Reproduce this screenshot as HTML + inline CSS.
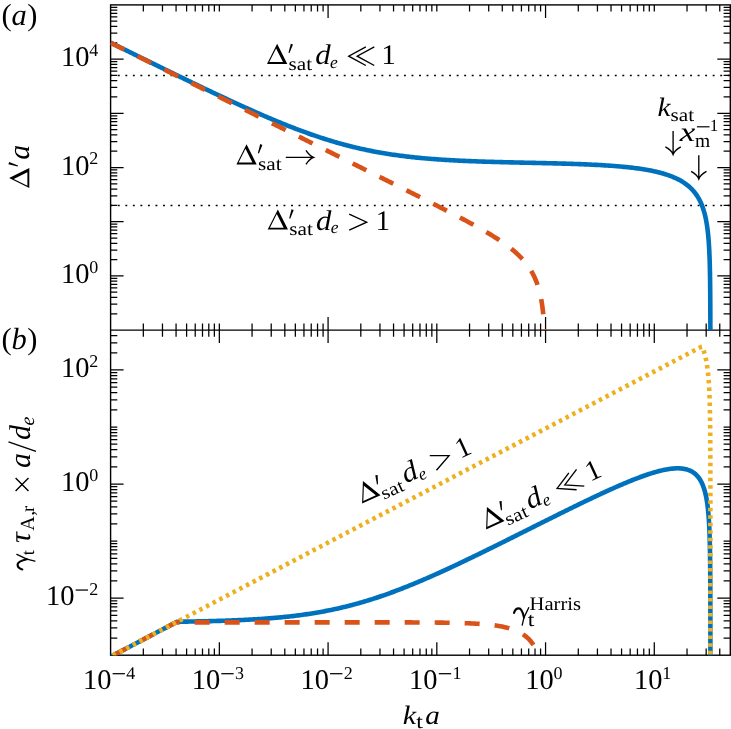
<!DOCTYPE html>
<html><head><meta charset="utf-8"><title>fig</title>
<style>
html,body{margin:0;padding:0;background:#fff;}
body{width:731px;height:729px;overflow:hidden;}
svg{display:block;will-change:transform;}
text{font-family:"Liberation Serif",serif;fill:#000;text-rendering:geometricPrecision;}
.tk{font-size:28.5px;}
.sp{font-size:18px;}
.it{font-style:italic;}
.an{font-size:30px;}
.sb{font-size:20px;}
</style></head><body>
<svg width="731" height="729" viewBox="0 0 731 729">
<rect width="731" height="729" fill="#fff"/>
<defs>
<clipPath id="ca"><rect x="110.6" y="4.9" width="619.6999999999999" height="325.20000000000005"/></clipPath>
<clipPath id="cb"><rect x="110.6" y="330.1" width="619.6999999999999" height="325.1"/></clipPath>
</defs>
<g id="dots" stroke="#000" stroke-width="1.5" stroke-dasharray="1.9 5.63" stroke-dashoffset="0.3" fill="none">
<line x1="110.6" y1="75.42" x2="730.3" y2="75.42"/>
<line x1="110.6" y1="205.38" x2="730.3" y2="205.38"/>
</g>
<path stroke="#000" fill="none" stroke-width="1.25" d="M143.33 4.90V11.60M143.33 323.40V336.80M143.33 648.50V655.20M162.48 4.90V11.60M162.48 323.40V336.80M162.48 648.50V655.20M176.07 4.90V11.60M176.07 323.40V336.80M176.07 648.50V655.20M186.61 4.90V11.60M186.61 323.40V336.80M186.61 648.50V655.20M195.22 4.90V11.60M195.22 323.40V336.80M195.22 648.50V655.20M202.50 4.90V11.60M202.50 323.40V336.80M202.50 648.50V655.20M208.80 4.90V11.60M208.80 323.40V336.80M208.80 648.50V655.20M214.36 4.90V11.60M214.36 323.40V336.80M214.36 648.50V655.20M219.34 4.90V11.60M219.34 323.40V343.10M219.34 642.20V655.20M252.07 4.90V11.60M252.07 323.40V336.80M252.07 648.50V655.20M271.22 4.90V11.60M271.22 323.40V336.80M271.22 648.50V655.20M284.81 4.90V11.60M284.81 323.40V336.80M284.81 648.50V655.20M295.34 4.90V11.60M295.34 323.40V336.80M295.34 648.50V655.20M303.95 4.90V11.60M303.95 323.40V336.80M303.95 648.50V655.20M311.23 4.90V11.60M311.23 323.40V336.80M311.23 648.50V655.20M317.54 4.90V11.60M317.54 323.40V336.80M317.54 648.50V655.20M323.10 4.90V11.60M323.10 323.40V336.80M323.10 648.50V655.20M328.08 4.90V17.90M328.08 317.10V343.10M328.08 642.20V655.20M360.81 4.90V11.60M360.81 323.40V336.80M360.81 648.50V655.20M379.96 4.90V11.60M379.96 323.40V336.80M379.96 648.50V655.20M393.55 4.90V11.60M393.55 323.40V336.80M393.55 648.50V655.20M404.08 4.90V11.60M404.08 323.40V336.80M404.08 648.50V655.20M412.69 4.90V11.60M412.69 323.40V336.80M412.69 648.50V655.20M419.97 4.90V11.60M419.97 323.40V336.80M419.97 648.50V655.20M426.28 4.90V11.60M426.28 323.40V336.80M426.28 648.50V655.20M431.84 4.90V11.60M431.84 323.40V336.80M431.84 648.50V655.20M436.82 4.90V11.60M436.82 323.40V343.10M436.82 642.20V655.20M469.55 4.90V11.60M469.55 323.40V336.80M469.55 648.50V655.20M488.70 4.90V11.60M488.70 323.40V336.80M488.70 648.50V655.20M502.28 4.90V11.60M502.28 323.40V336.80M502.28 648.50V655.20M512.82 4.90V11.60M512.82 323.40V336.80M512.82 648.50V655.20M521.43 4.90V11.60M521.43 323.40V336.80M521.43 648.50V655.20M528.71 4.90V11.60M528.71 323.40V336.80M528.71 648.50V655.20M535.02 4.90V11.60M535.02 323.40V336.80M535.02 648.50V655.20M540.58 4.90V11.60M540.58 323.40V336.80M540.58 648.50V655.20M545.56 4.90V17.90M545.56 317.10V343.10M545.56 642.20V655.20M578.29 4.90V11.60M578.29 323.40V336.80M578.29 648.50V655.20M597.44 4.90V11.60M597.44 323.40V336.80M597.44 648.50V655.20M611.02 4.90V11.60M611.02 323.40V336.80M611.02 648.50V655.20M621.56 4.90V11.60M621.56 323.40V336.80M621.56 648.50V655.20M630.17 4.90V11.60M630.17 323.40V336.80M630.17 648.50V655.20M637.45 4.90V11.60M637.45 323.40V336.80M637.45 648.50V655.20M643.76 4.90V11.60M643.76 323.40V336.80M643.76 648.50V655.20M649.32 4.90V11.60M649.32 323.40V336.80M649.32 648.50V655.20M654.29 4.90V11.60M654.29 323.40V343.10M654.29 642.20V655.20M687.03 4.90V11.60M687.03 323.40V336.80M687.03 648.50V655.20M706.18 4.90V11.60M706.18 323.40V336.80M706.18 648.50V655.20M719.76 4.90V11.60M719.76 323.40V336.80M719.76 648.50V655.20M110.60 313.78H117.30M723.60 313.78H730.30M110.60 304.24H117.30M723.60 304.24H730.30M110.60 297.47H117.30M723.60 297.47H730.30M110.60 292.22H117.30M723.60 292.22H730.30M110.60 287.92H117.30M723.60 287.92H730.30M110.60 284.30H117.30M723.60 284.30H730.30M110.60 281.15H117.30M723.60 281.15H730.30M110.60 278.38H117.30M723.60 278.38H730.30M110.60 275.90H123.60M717.30 275.90H730.30M110.60 259.58H117.30M723.60 259.58H730.30M110.60 250.04H117.30M723.60 250.04H730.30M110.60 243.27H117.30M723.60 243.27H730.30M110.60 238.02H117.30M723.60 238.02H730.30M110.60 233.72H117.30M723.60 233.72H730.30M110.60 230.10H117.30M723.60 230.10H730.30M110.60 226.95H117.30M723.60 226.95H730.30M110.60 224.18H117.30M723.60 224.18H730.30M110.60 221.70H123.60M717.30 221.70H730.30M110.60 205.38H117.30M723.60 205.38H730.30M110.60 195.84H117.30M723.60 195.84H730.30M110.60 189.07H117.30M723.60 189.07H730.30M110.60 183.82H117.30M723.60 183.82H730.30M110.60 179.52H117.30M723.60 179.52H730.30M110.60 175.90H117.30M723.60 175.90H730.30M110.60 172.75H117.30M723.60 172.75H730.30M110.60 169.98H117.30M723.60 169.98H730.30M110.60 167.50H123.60M717.30 167.50H730.30M110.60 151.18H117.30M723.60 151.18H730.30M110.60 141.64H117.30M723.60 141.64H730.30M110.60 134.87H117.30M723.60 134.87H730.30M110.60 129.62H117.30M723.60 129.62H730.30M110.60 125.32H117.30M723.60 125.32H730.30M110.60 121.70H117.30M723.60 121.70H730.30M110.60 118.55H117.30M723.60 118.55H730.30M110.60 115.78H117.30M723.60 115.78H730.30M110.60 113.30H123.60M717.30 113.30H730.30M110.60 96.98H117.30M723.60 96.98H730.30M110.60 87.44H117.30M723.60 87.44H730.30M110.60 80.67H117.30M723.60 80.67H730.30M110.60 75.42H117.30M723.60 75.42H730.30M110.60 71.12H117.30M723.60 71.12H730.30M110.60 67.50H117.30M723.60 67.50H730.30M110.60 64.35H117.30M723.60 64.35H730.30M110.60 61.58H117.30M723.60 61.58H730.30M110.60 59.10H123.60M717.30 59.10H730.30M110.60 42.78H117.30M723.60 42.78H730.30M110.60 33.24H117.30M723.60 33.24H730.30M110.60 26.47H117.30M723.60 26.47H730.30M110.60 21.22H117.30M723.60 21.22H730.30M110.60 16.92H117.30M723.60 16.92H730.30M110.60 13.30H117.30M723.60 13.30H730.30M110.60 10.15H117.30M723.60 10.15H730.30M110.60 7.38H117.30M723.60 7.38H730.30M110.60 638.03H117.30M723.60 638.03H730.30M110.60 627.98H117.30M723.60 627.98H730.30M110.60 620.86H117.30M723.60 620.86H730.30M110.60 615.33H117.30M723.60 615.33H730.30M110.60 610.81H117.30M723.60 610.81H730.30M110.60 606.99H117.30M723.60 606.99H730.30M110.60 603.68H117.30M723.60 603.68H730.30M110.60 600.76H117.30M723.60 600.76H730.30M110.60 598.15H123.60M717.30 598.15H730.30M110.60 580.98H117.30M723.60 580.98H730.30M110.60 570.94H117.30M723.60 570.94H730.30M110.60 563.81H117.30M723.60 563.81H730.30M110.60 558.28H117.30M723.60 558.28H730.30M110.60 553.76H117.30M723.60 553.76H730.30M110.60 549.95H117.30M723.60 549.95H730.30M110.60 546.64H117.30M723.60 546.64H730.30M110.60 543.72H117.30M723.60 543.72H730.30M110.60 541.11H117.30M723.60 541.11H730.30M110.60 523.94H117.30M723.60 523.94H730.30M110.60 513.89H117.30M723.60 513.89H730.30M110.60 506.76H117.30M723.60 506.76H730.30M110.60 501.24H117.30M723.60 501.24H730.30M110.60 496.72H117.30M723.60 496.72H730.30M110.60 492.90H117.30M723.60 492.90H730.30M110.60 489.59H117.30M723.60 489.59H730.30M110.60 486.67H117.30M723.60 486.67H730.30M110.60 484.06H123.60M717.30 484.06H730.30M110.60 466.89H117.30M723.60 466.89H730.30M110.60 456.85H117.30M723.60 456.85H730.30M110.60 449.72H117.30M723.60 449.72H730.30M110.60 444.19H117.30M723.60 444.19H730.30M110.60 439.67H117.30M723.60 439.67H730.30M110.60 435.85H117.30M723.60 435.85H730.30M110.60 432.55H117.30M723.60 432.55H730.30M110.60 429.63H117.30M723.60 429.63H730.30M110.60 427.02H117.30M723.60 427.02H730.30M110.60 409.85H117.30M723.60 409.85H730.30M110.60 399.80H117.30M723.60 399.80H730.30M110.60 392.67H117.30M723.60 392.67H730.30M110.60 387.15H117.30M723.60 387.15H730.30M110.60 382.63H117.30M723.60 382.63H730.30M110.60 378.81H117.30M723.60 378.81H730.30M110.60 375.50H117.30M723.60 375.50H730.30M110.60 372.58H117.30M723.60 372.58H730.30M110.60 369.97H123.60M717.30 369.97H730.30M110.60 352.80H117.30M723.60 352.80H730.30M110.60 342.76H117.30M723.60 342.76H730.30M110.60 335.63H117.30M723.60 335.63H730.30"/>
<rect x="110.6" y="4.9" width="619.6999999999999" height="650.3000000000001" fill="none" stroke="#000" stroke-width="1.4"/>
<line x1="110.6" y1="330.1" x2="730.3" y2="330.1" stroke="#000" stroke-width="1.4"/>
<g clip-path="url(#ca)" fill="none" stroke-width="4.6" stroke-linejoin="round">
<path d="M110.60,42.64 L111.95,43.31 L113.29,43.97 L114.64,44.64 L115.99,45.31 L117.33,45.98 L118.68,46.64 L120.03,47.31 L121.37,47.97 L122.72,48.64 L124.07,49.31 L125.41,49.97 L126.76,50.64 L128.11,51.30 L129.46,51.97 L130.80,52.63 L132.15,53.30 L133.50,53.97 L134.84,54.63 L136.19,55.29 L137.54,55.96 L138.89,56.62 L140.24,57.29 L141.58,57.95 L142.93,58.62 L144.28,59.28 L145.63,59.94 L146.98,60.61 L148.32,61.27 L149.67,61.93 L151.02,62.60 L152.37,63.26 L153.72,63.92 L155.07,64.58 L156.42,65.24 L157.77,65.91 L159.11,66.57 L160.46,67.23 L161.81,67.89 L163.16,68.55 L164.51,69.21 L165.86,69.87 L167.21,70.53 L168.56,71.19 L169.91,71.85 L171.26,72.51 L172.61,73.17 L173.96,73.82 L175.32,74.48 L176.67,75.14 L178.02,75.80 L179.37,76.45 L180.72,77.11 L182.07,77.77 L183.43,78.42 L184.78,79.08 L186.13,79.73 L187.48,80.39 L188.84,81.04 L190.19,81.69 L191.54,82.35 L192.90,83.00 L194.25,83.65 L195.60,84.30 L196.96,84.95 L198.31,85.60 L199.67,86.25 L201.02,86.90 L202.38,87.55 L203.73,88.20 L205.09,88.84 L206.45,89.49 L207.80,90.14 L209.16,90.78 L210.52,91.43 L211.88,92.07 L213.23,92.71 L214.59,93.35 L215.95,94.00 L217.31,94.64 L218.67,95.28 L220.03,95.92 L221.39,96.55 L222.75,97.19 L224.11,97.83 L225.47,98.46 L226.84,99.10 L228.20,99.73 L229.56,100.36 L230.93,100.99 L232.29,101.62 L233.65,102.25 L235.02,102.88 L236.39,103.51 L237.75,104.13 L239.12,104.76 L240.49,105.38 L241.85,106.00 L243.22,106.62 L244.59,107.24 L245.96,107.86 L247.33,108.47 L248.70,109.09 L250.08,109.70 L251.45,110.31 L252.82,110.92 L254.20,111.53 L255.57,112.14 L256.95,112.74 L258.32,113.35 L259.70,113.95 L261.08,114.55 L262.45,115.14 L263.83,115.74 L265.21,116.33 L266.60,116.93 L267.98,117.52 L269.36,118.10 L270.74,118.69 L272.13,119.27 L273.52,119.85 L274.90,120.43 L276.29,121.01 L277.68,121.58 L279.07,122.15 L280.46,122.72 L281.85,123.29 L283.24,123.85 L284.64,124.41 L286.03,124.97 L287.43,125.52 L288.83,126.07 L290.23,126.62 L291.63,127.17 L293.03,127.71 L294.43,128.25 L295.83,128.79 L297.24,129.32 L298.64,129.85 L300.05,130.38 L301.46,130.90 L302.87,131.42 L304.28,131.94 L305.69,132.45 L307.11,132.96 L308.52,133.46 L309.94,133.97 L311.36,134.46 L312.78,134.96 L314.20,135.45 L315.62,135.93 L317.04,136.41 L318.47,136.89 L319.89,137.36 L321.32,137.83 L322.75,138.29 L324.18,138.75 L325.61,139.21 L327.05,139.66 L328.48,140.10 L329.92,140.54 L331.36,140.98 L332.80,141.41 L334.24,141.84 L335.68,142.26 L337.12,142.68 L338.57,143.09 L340.01,143.49 L341.46,143.90 L342.91,144.29 L344.36,144.68 L345.82,145.07 L347.27,145.45 L348.72,145.83 L350.18,146.20 L351.64,146.56 L353.10,146.92 L354.56,147.28 L356.02,147.63 L357.48,147.97 L358.94,148.31 L360.41,148.64 L361.88,148.97 L363.34,149.30 L364.81,149.61 L366.28,149.93 L367.75,150.23 L369.22,150.53 L370.70,150.83 L372.17,151.12 L373.65,151.41 L375.12,151.69 L376.60,151.96 L378.08,152.23 L379.56,152.50 L381.04,152.76 L382.52,153.01 L384.00,153.26 L385.48,153.51 L386.96,153.75 L388.45,153.98 L389.93,154.22 L391.42,154.44 L392.91,154.66 L394.39,154.88 L395.88,155.09 L397.37,155.30 L398.86,155.50 L400.35,155.70 L401.84,155.89 L403.33,156.08 L404.82,156.26 L406.31,156.44 L407.80,156.62 L409.30,156.79 L410.79,156.96 L412.28,157.12 L413.78,157.28 L415.27,157.44 L416.77,157.59 L418.26,157.74 L419.76,157.89 L421.25,158.03 L422.75,158.17 L424.25,158.30 L425.74,158.43 L427.24,158.56 L428.74,158.69 L430.23,158.81 L431.73,158.93 L433.23,159.04 L434.73,159.16 L436.23,159.27 L437.73,159.37 L439.23,159.48 L440.72,159.58 L442.22,159.68 L443.72,159.77 L445.22,159.87 L446.72,159.96 L448.22,160.05 L449.72,160.14 L451.22,160.22 L452.72,160.30 L454.22,160.38 L455.72,160.46 L457.23,160.54 L458.73,160.61 L460.23,160.69 L461.73,160.76 L463.23,160.83 L464.73,160.89 L466.23,160.96 L467.73,161.02 L469.23,161.08 L470.73,161.15 L472.24,161.21 L473.74,161.26 L475.24,161.32 L476.74,161.37 L478.24,161.43 L479.74,161.48 L481.25,161.53 L482.75,161.58 L484.25,161.63 L485.75,161.68 L487.25,161.73 L488.76,161.77 L490.26,161.82 L491.76,161.86 L493.26,161.91 L494.76,161.95 L496.27,161.99 L497.77,162.03 L499.27,162.07 L500.77,162.11 L502.27,162.15 L503.78,162.19 L505.28,162.23 L506.78,162.26 L508.28,162.30 L509.78,162.34 L511.29,162.37 L512.79,162.41 L514.29,162.44 L515.79,162.48 L517.30,162.51 L518.80,162.55 L520.30,162.58 L521.80,162.62 L523.30,162.65 L524.81,162.68 L526.31,162.72 L527.81,162.75 L529.31,162.78 L530.82,162.82 L532.32,162.85 L533.82,162.88 L535.32,162.92 L536.82,162.95 L538.33,162.99 L539.83,163.02 L541.33,163.05 L542.83,163.09 L544.34,163.12 L545.84,163.16 L547.34,163.20 L548.84,163.23 L550.34,163.27 L551.85,163.31 L553.35,163.34 L554.85,163.38 L556.35,163.42 L557.85,163.46 L559.36,163.50 L560.86,163.54 L562.36,163.59 L563.86,163.63 L565.36,163.67 L566.87,163.72 L568.37,163.76 L569.87,163.81 L571.37,163.86 L572.87,163.91 L574.38,163.96 L575.88,164.01 L577.38,164.06 L578.88,164.12 L580.38,164.17 L581.88,164.23 L583.39,164.29 L584.89,164.35 L586.39,164.41 L587.89,164.48 L589.39,164.54 L590.89,164.61 L592.39,164.68 L593.89,164.76 L595.39,164.83 L596.89,164.91 L598.39,164.99 L599.90,165.07 L601.40,165.15 L602.90,165.24 L604.40,165.33 L605.90,165.43 L607.39,165.52 L608.89,165.62 L610.39,165.73 L611.89,165.83 L613.39,165.94 L614.89,166.06 L616.39,166.18 L617.88,166.30 L619.38,166.43 L620.88,166.56 L622.37,166.70 L623.87,166.84 L625.37,166.99 L626.86,167.14 L628.35,167.30 L629.85,167.46 L631.34,167.63 L632.83,167.81 L634.32,167.99 L635.82,168.18 L637.30,168.38 L638.79,168.59 L640.28,168.80 L641.77,169.02 L643.25,169.26 L644.73,169.50 L646.22,169.75 L647.69,170.01 L649.17,170.28 L650.65,170.57 L652.12,170.86 L653.59,171.17 L655.06,171.50 L656.52,171.83 L657.98,172.18 L659.44,172.55 L660.90,172.93 L662.34,173.33 L663.79,173.75 L665.22,174.19 L666.66,174.64 L668.08,175.12 L669.50,175.62 L670.91,176.15 L672.30,176.69 L673.69,177.27 L675.07,177.87 L676.44,178.50 L677.79,179.16 L679.12,179.84 L680.44,180.57 L681.74,181.32 L683.02,182.11 L684.28,182.93 L685.51,183.79 L686.72,184.68 L687.89,185.62 L689.04,186.58 L690.16,187.59 L691.24,188.63 L692.29,189.71 L693.30,190.82 L694.27,191.97 L695.20,193.15 L696.09,194.36 L696.94,195.60 L697.75,196.87 L698.52,198.16 L699.25,199.47 L699.93,200.81 L700.59,202.16 L701.20,203.53 L701.78,204.92 L702.32,206.32 L702.83,207.73 L703.31,209.16 L703.76,210.59 L704.18,212.03 L704.58,213.48 L704.95,214.94 L705.30,216.40 L705.62,217.87 L705.93,219.34 L706.21,220.81 L706.48,222.29 L706.73,223.77 L706.96,225.26 L707.18,226.75 L707.38,228.23 L707.57,229.72 L707.75,231.22 L707.92,232.71 L708.08,234.20 L708.22,235.70 L708.36,237.20 L708.49,238.69 L708.61,240.19 L708.72,241.69 L708.83,243.19 L708.93,244.69 L709.02,246.19 L709.11,247.69 L709.19,249.19 L709.27,250.69 L709.34,252.19 L709.40,253.69 L709.47,255.19 L709.53,256.69 L709.58,258.19 L709.63,259.70 L709.68,261.20 L709.73,262.70 L709.77,264.20 L709.81,265.70 L709.84,267.21 L709.88,268.71 L709.91,270.21 L709.94,271.71 L709.97,273.22 L710.00,274.72 L710.02,276.22 L710.05,277.72 L710.07,279.22 L710.09,280.73 L710.11,282.23 L710.13,283.73 L710.15,285.23 L710.16,286.74 L710.18,288.24 L710.19,289.74 L710.21,291.24 L710.22,292.75 L710.23,294.25 L710.24,295.75 L710.25,297.26 L710.26,298.76 L710.27,300.26 L710.28,301.76 L710.29,303.27 L710.29,304.77 L710.30,306.27 L710.31,307.77 L710.31,309.28 L710.32,310.78 L710.33,312.28 L710.33,313.78 L710.34,315.29 L710.34,316.79 L710.34,318.29 L710.35,319.79 L710.35,321.30 L710.35,322.80 L710.36,324.30 L710.36,325.80 L710.36,327.31 L710.37,328.81 L710.37,330.31 L710.37,331.81 L710.37,333.32 L710.38,334.82 L710.38,336.32 L710.38,337.83 L710.38,339.33 L710.38,340.83 L710.38,342.33 L710.39,343.84 L710.39,345.34 L710.39,346.84 L710.39,348.34 L710.39,349.85 L710.39,351.35 L710.39,352.85 L710.39,354.35 L710.39,355.86 L710.39,357.36 L710.40,358.86 L710.40,360.36 L710.40,361.87 L710.40,363.37 L710.40,364.87 L710.40,366.37 L710.40,367.88 L710.40,369.38 L710.40,370.88 L710.40,372.39 L710.40,373.89 L710.40,375.39 L710.40,376.89 L710.40,378.40 L710.40,379.90 L710.40,381.40 L710.40,382.90 L710.40,384.41 L710.40,385.91 L710.40,387.41 L710.40,388.91 L710.40,390.42 L710.40,391.92 L710.40,393.42 L710.40,394.92 L710.40,396.43 L710.40,397.93 L710.40,399.43 L710.40,400.93 L710.40,402.44 L710.40,403.94 L710.40,405.44 L710.40,406.95 L710.40,408.45 L710.40,409.95 L710.40,411.45 L710.40,412.96 L710.41,414.46 L710.41,415.96 L710.41,417.46 L710.41,418.97 L710.41,420.47 L710.41,421.97 L710.41,423.47 L710.41,424.98 L710.41,426.48 L710.41,427.98 L710.41,429.48 L710.41,430.99 L710.41,432.49 L710.41,433.99 L710.41,435.49 L710.41,437.00 L710.41,438.50" stroke="#0072bd"/>
<path d="M110.60,42.78 L111.94,43.45 L113.29,44.12 L114.63,44.79 L115.98,45.46 L117.32,46.13 L118.67,46.80 L120.01,47.47 L121.35,48.14 L122.70,48.81 L124.04,49.48 L125.39,50.15 L126.73,50.82 L128.08,51.50 L129.42,52.17 L130.76,52.84 L132.11,53.51 L133.45,54.18 L134.80,54.85 L136.14,55.52 L137.49,56.19 L138.83,56.86 L140.18,57.53 L141.52,58.20 L142.86,58.87 L144.21,59.54 L145.55,60.21 L146.90,60.88 L148.24,61.55 L149.59,62.22 L150.93,62.89 L152.27,63.56 L153.62,64.23 L154.96,64.90 L156.31,65.57 L157.65,66.24 L159.00,66.91 L160.34,67.58 L161.68,68.25 L163.03,68.92 L164.37,69.59 L165.72,70.26 L167.06,70.93 L168.41,71.60 L169.75,72.27 L171.09,72.94 L172.44,73.61 L173.78,74.28 L175.13,74.95 L176.47,75.62 L177.82,76.29 L179.16,76.96 L180.50,77.63 L181.85,78.30 L183.19,78.97 L184.54,79.64 L185.88,80.31 L187.23,80.98 L188.57,81.65 L189.91,82.32 L191.26,82.99 L192.60,83.66 L193.95,84.33 L195.29,85.00 L196.64,85.67 L197.98,86.34 L199.33,87.01 L200.67,87.68 L202.01,88.35 L203.36,89.02 L204.70,89.69 L206.05,90.36 L207.39,91.03 L208.74,91.70 L210.08,92.37 L211.42,93.04 L212.77,93.71 L214.11,94.38 L215.46,95.05 L216.80,95.72 L218.15,96.39 L219.49,97.06 L220.83,97.73 L222.18,98.40 L223.52,99.07 L224.87,99.74 L226.21,100.41 L227.56,101.08 L228.90,101.75 L230.24,102.42 L231.59,103.09 L232.93,103.76 L234.28,104.43 L235.62,105.10 L236.97,105.77 L238.31,106.44 L239.65,107.11 L241.00,107.78 L242.34,108.45 L243.69,109.12 L245.03,109.79 L246.38,110.46 L247.72,111.13 L249.07,111.80 L250.41,112.47 L251.75,113.14 L253.10,113.81 L254.44,114.48 L255.79,115.15 L257.13,115.82 L258.48,116.49 L259.82,117.16 L261.16,117.83 L262.51,118.50 L263.85,119.17 L265.20,119.84 L266.54,120.51 L267.89,121.18 L269.23,121.85 L270.57,122.52 L271.92,123.19 L273.26,123.86 L274.61,124.53 L275.95,125.20 L277.30,125.87 L278.64,126.54 L279.98,127.21 L281.33,127.88 L282.67,128.55 L284.02,129.22 L285.36,129.89 L286.71,130.56 L288.05,131.23 L289.39,131.90 L290.74,132.57 L292.08,133.24 L293.43,133.91 L294.77,134.58 L296.12,135.25 L297.46,135.92 L298.80,136.59 L300.15,137.26 L301.49,137.93 L302.84,138.60 L304.18,139.27 L305.53,139.94 L306.87,140.61 L308.21,141.28 L309.56,141.95 L310.90,142.62 L312.25,143.30 L313.59,143.97 L314.94,144.64 L316.28,145.31 L317.62,145.98 L318.97,146.65 L320.31,147.32 L321.66,147.99 L323.00,148.66 L324.35,149.33 L325.69,150.00 L327.03,150.67 L328.38,151.34 L329.72,152.01 L331.07,152.68 L332.41,153.35 L333.76,154.02 L335.10,154.69 L336.44,155.36 L337.79,156.03 L339.13,156.70 L340.48,157.37 L341.82,158.04 L343.17,158.71 L344.51,159.38 L345.85,160.05 L347.20,160.72 L348.54,161.39 L349.89,162.06 L351.23,162.73 L352.58,163.40 L353.92,164.07 L355.26,164.74 L356.61,165.41 L357.95,166.08 L359.30,166.75 L360.64,167.42 L361.98,168.09 L363.33,168.76 L364.67,169.44 L366.02,170.11 L367.36,170.78 L368.70,171.45 L370.05,172.12 L371.39,172.79 L372.74,173.46 L374.08,174.13 L375.42,174.80 L376.77,175.47 L378.11,176.14 L379.46,176.81 L380.80,177.48 L382.14,178.16 L383.49,178.83 L384.83,179.50 L386.17,180.17 L387.52,180.84 L388.86,181.51 L390.21,182.18 L391.55,182.86 L392.89,183.53 L394.24,184.20 L395.58,184.87 L396.92,185.54 L398.27,186.22 L399.61,186.89 L400.95,187.56 L402.30,188.23 L403.64,188.90 L404.98,189.58 L406.32,190.25 L407.67,190.92 L409.01,191.60 L410.35,192.27 L411.70,192.94 L413.04,193.62 L414.38,194.29 L415.72,194.97 L417.06,195.64 L418.41,196.32 L419.75,196.99 L421.09,197.67 L422.43,198.34 L423.77,199.02 L425.11,199.69 L426.45,200.37 L427.80,201.05 L429.14,201.73 L430.48,202.40 L431.82,203.08 L433.16,203.76 L434.50,204.44 L435.83,205.12 L437.17,205.80 L438.51,206.48 L439.85,207.17 L441.19,207.85 L442.53,208.53 L443.86,209.22 L445.20,209.90 L446.54,210.59 L447.87,211.27 L449.21,211.96 L450.54,212.65 L451.88,213.34 L453.21,214.03 L454.54,214.72 L455.88,215.42 L457.21,216.11 L458.54,216.81 L459.87,217.51 L461.20,218.21 L462.53,218.91 L463.85,219.61 L465.18,220.32 L466.50,221.02 L467.83,221.73 L469.15,222.45 L470.47,223.16 L471.79,223.88 L473.11,224.60 L474.43,225.32 L475.74,226.04 L477.06,226.77 L478.37,227.50 L479.68,228.24 L480.99,228.98 L482.29,229.72 L483.59,230.47 L484.89,231.22 L486.19,231.98 L487.48,232.74 L488.78,233.51 L490.06,234.28 L491.35,235.06 L492.63,235.85 L493.90,236.64 L495.18,237.44 L496.44,238.25 L497.71,239.06 L498.96,239.88 L500.21,240.71 L501.46,241.55 L502.70,242.40 L503.93,243.26 L505.15,244.14 L506.37,245.02 L507.57,245.91 L508.77,246.82 L509.96,247.74 L511.14,248.67 L512.31,249.61 L513.46,250.57 L514.60,251.55 L515.73,252.54 L516.84,253.55 L517.94,254.57 L519.02,255.62 L520.09,256.68 L521.14,257.75 L522.16,258.85 L523.17,259.96 L524.15,261.10 L525.12,262.25 L526.06,263.42 L526.97,264.61 L527.86,265.83 L528.72,267.05 L529.56,268.30 L530.37,269.57 L531.15,270.85 L531.90,272.15 L532.63,273.47 L533.32,274.80 L533.99,276.14 L534.63,277.50 L535.23,278.88 L535.82,280.26 L536.37,281.66 L536.90,283.06 L537.40,284.48 L537.87,285.91 L538.32,287.34 L538.75,288.78 L539.15,290.23 L539.53,291.68 L539.89,293.14 L540.23,294.60 L540.55,296.07 L540.86,297.54 L541.14,299.01 L541.41,300.49 L541.66,301.97 L541.90,303.46 L542.12,304.94 L542.33,306.43 L542.53,307.92 L542.71,309.41 L542.89,310.90 L543.05,312.39 L543.21,313.89 L543.35,315.38 L543.49,316.88 L543.61,318.38 L543.73,319.87 L543.85,321.37 L543.95,322.87 L544.05,324.37 L544.14,325.87 L544.23,327.37 L544.31,328.87 L544.39,330.37 L544.46,331.87 L544.53,333.37 L544.59,334.87 L544.65,336.37 L544.71,337.87 L544.76,339.37 L544.81,340.87 L544.85,342.37 L544.90,343.87 L544.94,345.38 L544.98,346.88 L545.01,348.38 L545.05,349.88 L545.08,351.38 L545.11,352.88 L545.13,354.39 L545.16,355.89 L545.19,357.39 L545.21,358.89 L545.23,360.39 L545.25,361.90 L545.27,363.40 L545.29,364.90 L545.30,366.40 L545.32,367.90 L545.33,369.41 L545.35,370.91 L545.36,372.41 L545.37,373.91 L545.38,375.41 L545.39,376.92 L545.40,378.42 L545.41,379.92 L545.42,381.42 L545.43,382.92 L545.44,384.43 L545.44,385.93 L545.45,387.43 L545.46,388.93 L545.46,390.43 L545.47,391.94 L545.47,393.44 L545.48,394.94 L545.48,396.44 L545.49,397.94 L545.49,399.45 L545.50,400.95 L545.50,402.45 L545.50,403.95 L545.51,405.45 L545.51,406.96 L545.51,408.46 L545.51,409.96 L545.52,411.46 L545.52,412.96 L545.52,414.47 L545.52,415.97 L545.53,417.47 L545.53,418.97 L545.53,420.48 L545.53,421.98 L545.54,423.48 L545.54,424.98 L545.54,426.48 L545.54,427.99 L545.54,429.49 L545.55,430.99 L545.55,432.49 L545.55,433.99 L545.55,435.50 L545.55,437.00 L545.56,438.50" stroke="#d95319" stroke-dasharray="15.3 14.75"/>
</g>
<g clip-path="url(#cb)" fill="none" stroke-width="4.6" stroke-linejoin="round">
<path d="M110.60,656.68 L111.93,655.98 L113.26,655.29 L114.59,654.59 L115.92,653.89 L117.25,653.19 L118.57,652.50 L119.90,651.80 L121.23,651.10 L122.56,650.41 L123.89,649.71 L125.22,649.01 L126.55,648.31 L127.88,647.62 L129.21,646.92 L130.54,646.22 L131.86,645.52 L133.19,644.83 L134.52,644.13 L135.85,643.43 L137.18,642.74 L138.51,642.04 L139.84,641.34 L141.17,640.64 L142.50,639.95 L143.83,639.25 L145.16,638.55 L146.48,637.85 L147.81,637.16 L149.14,636.46 L150.47,635.76 L151.80,635.07 L153.13,634.37 L154.46,633.67 L155.79,632.97 L157.12,632.28 L158.45,631.58 L159.78,630.88 L161.10,630.19 L162.43,629.49 L163.76,628.79 L165.09,628.09 L166.42,627.40 L167.75,626.70 L169.08,626.00 L170.41,625.30 L171.74,624.61 L173.07,623.91 L174.39,623.21 L175.72,622.52 L177.05,621.82 L178.54,621.71 L180.04,621.69 L181.54,621.67 L183.04,621.64 L184.54,621.62 L186.04,621.60 L187.54,621.58 L189.04,621.55 L190.54,621.53 L192.04,621.50 L193.54,621.48 L195.04,621.45 L196.54,621.42 L198.04,621.39 L199.55,621.36 L201.05,621.33 L202.55,621.30 L204.05,621.27 L205.55,621.23 L207.05,621.20 L208.55,621.16 L210.05,621.12 L211.55,621.09 L213.05,621.05 L214.55,621.01 L216.05,620.96 L217.55,620.92 L219.05,620.88 L220.55,620.83 L222.05,620.78 L223.55,620.74 L225.05,620.69 L226.55,620.63 L228.05,620.58 L229.55,620.53 L231.05,620.47 L232.55,620.41 L234.05,620.35 L235.55,620.29 L237.05,620.23 L238.55,620.16 L240.05,620.10 L241.55,620.03 L243.05,619.96 L244.54,619.88 L246.04,619.81 L247.54,619.73 L249.04,619.65 L250.54,619.57 L252.04,619.49 L253.54,619.40 L255.03,619.31 L256.53,619.22 L258.03,619.12 L259.53,619.03 L261.03,618.93 L262.52,618.83 L264.02,618.72 L265.52,618.61 L267.01,618.50 L268.51,618.39 L270.01,618.27 L271.50,618.15 L273.00,618.03 L274.49,617.90 L275.99,617.77 L277.48,617.63 L278.98,617.50 L280.47,617.36 L281.97,617.21 L283.46,617.06 L284.95,616.91 L286.45,616.76 L287.94,616.60 L289.43,616.43 L290.92,616.26 L292.41,616.09 L293.90,615.92 L295.39,615.74 L296.88,615.55 L298.37,615.36 L299.86,615.17 L301.35,614.97 L302.83,614.77 L304.32,614.56 L305.81,614.35 L307.29,614.13 L308.78,613.91 L310.26,613.68 L311.74,613.45 L313.22,613.21 L314.71,612.97 L316.19,612.72 L317.67,612.47 L319.14,612.21 L320.62,611.95 L322.10,611.68 L323.57,611.41 L325.05,611.13 L326.52,610.85 L327.99,610.56 L329.47,610.26 L330.94,609.96 L332.41,609.66 L333.87,609.34 L335.34,609.03 L336.81,608.70 L338.27,608.38 L339.74,608.04 L341.20,607.70 L342.66,607.36 L344.12,607.01 L345.58,606.65 L347.03,606.29 L348.49,605.93 L349.94,605.55 L351.39,605.18 L352.85,604.79 L354.29,604.40 L355.74,604.01 L357.19,603.61 L358.64,603.21 L360.08,602.80 L361.52,602.38 L362.96,601.96 L364.40,601.53 L365.84,601.10 L367.27,600.67 L368.71,600.23 L370.14,599.78 L371.57,599.33 L373.00,598.87 L374.43,598.41 L375.86,597.95 L377.28,597.48 L378.71,597.00 L380.13,596.52 L381.55,596.04 L382.97,595.55 L384.39,595.05 L385.80,594.56 L387.22,594.05 L388.63,593.55 L390.04,593.04 L391.45,592.52 L392.86,592.00 L394.27,591.48 L395.67,590.95 L397.08,590.42 L398.48,589.89 L399.88,589.35 L401.28,588.81 L402.68,588.26 L404.07,587.72 L405.47,587.16 L406.86,586.61 L408.26,586.05 L409.65,585.49 L411.04,584.92 L412.43,584.35 L413.81,583.78 L415.20,583.21 L416.59,582.63 L417.97,582.05 L419.35,581.46 L420.74,580.88 L422.12,580.29 L423.50,579.70 L424.87,579.10 L426.25,578.51 L427.63,577.91 L429.00,577.31 L430.38,576.70 L431.75,576.10 L433.12,575.49 L434.49,574.88 L435.86,574.27 L437.23,573.65 L438.60,573.04 L439.97,572.42 L441.33,571.80 L442.70,571.18 L444.06,570.55 L445.43,569.93 L446.79,569.30 L448.15,568.67 L449.52,568.04 L450.88,567.40 L452.24,566.77 L453.60,566.13 L454.96,565.50 L456.31,564.86 L457.67,564.22 L459.03,563.58 L460.39,562.93 L461.74,562.29 L463.10,561.65 L464.45,561.00 L465.80,560.35 L467.16,559.70 L468.51,559.05 L469.86,558.40 L471.21,557.75 L472.57,557.10 L473.92,556.44 L475.27,555.79 L476.62,555.13 L477.97,554.47 L479.32,553.82 L480.66,553.16 L482.01,552.50 L483.36,551.84 L484.71,551.18 L486.05,550.52 L487.40,549.85 L488.75,549.19 L490.09,548.53 L491.44,547.86 L492.79,547.20 L494.13,546.53 L495.48,545.87 L496.82,545.20 L498.17,544.53 L499.51,543.87 L500.85,543.20 L502.20,542.53 L503.54,541.86 L504.88,541.19 L506.23,540.52 L507.57,539.85 L508.91,539.18 L510.26,538.51 L511.60,537.84 L512.94,537.17 L514.28,536.50 L515.63,535.83 L516.97,535.16 L518.31,534.49 L519.65,533.81 L521.00,533.14 L522.34,532.47 L523.68,531.80 L525.02,531.13 L526.36,530.45 L527.70,529.78 L529.05,529.11 L530.39,528.44 L531.73,527.76 L533.07,527.09 L534.41,526.42 L535.76,525.75 L537.10,525.07 L538.44,524.40 L539.78,523.73 L541.12,523.06 L542.47,522.39 L543.81,521.72 L545.15,521.05 L546.49,520.37 L547.84,519.70 L549.18,519.03 L550.52,518.36 L551.86,517.69 L553.21,517.03 L554.55,516.36 L555.90,515.69 L557.24,515.02 L558.58,514.35 L559.93,513.69 L561.27,513.02 L562.62,512.35 L563.96,511.69 L565.31,511.02 L566.66,510.36 L568.00,509.70 L569.35,509.03 L570.70,508.37 L572.04,507.71 L573.39,507.05 L574.74,506.39 L576.09,505.73 L577.44,505.08 L578.79,504.42 L580.14,503.76 L581.49,503.11 L582.84,502.46 L584.19,501.80 L585.54,501.15 L586.90,500.50 L588.25,499.86 L589.60,499.21 L590.96,498.56 L592.31,497.92 L593.67,497.28 L595.03,496.63 L596.39,496.00 L597.74,495.36 L599.10,494.72 L600.46,494.09 L601.82,493.46 L603.19,492.83 L604.55,492.20 L605.91,491.57 L607.28,490.95 L608.65,490.33 L610.01,489.71 L611.38,489.09 L612.75,488.48 L614.12,487.87 L615.49,487.26 L616.87,486.66 L618.24,486.05 L619.62,485.46 L621.00,484.86 L622.38,484.27 L623.76,483.68 L625.14,483.10 L626.53,482.52 L627.91,481.95 L629.30,481.38 L630.69,480.81 L632.08,480.25 L633.48,479.70 L634.88,479.15 L636.28,478.61 L637.68,478.07 L639.08,477.54 L640.49,477.02 L641.90,476.50 L643.31,475.99 L644.72,475.49 L646.14,475.00 L647.56,474.52 L648.99,474.05 L650.42,473.59 L651.85,473.14 L653.28,472.70 L654.72,472.27 L656.17,471.86 L657.61,471.46 L659.07,471.08 L660.52,470.72 L661.98,470.37 L663.45,470.04 L664.92,469.74 L666.39,469.45 L667.87,469.20 L669.35,468.97 L670.84,468.77 L672.33,468.60 L673.82,468.47 L675.32,468.37 L676.82,468.32 L678.32,468.32 L679.82,468.37 L681.32,468.48 L682.81,468.65 L684.29,468.89 L685.76,469.20 L687.21,469.59 L688.63,470.07 L690.02,470.64 L691.37,471.30 L692.67,472.05 L693.91,472.89 L695.09,473.82 L696.20,474.82 L697.24,475.90 L698.21,477.05 L699.11,478.25 L699.94,479.50 L700.71,480.79 L701.42,482.11 L702.07,483.47 L702.67,484.84 L703.22,486.24 L703.72,487.65 L704.19,489.08 L704.62,490.52 L705.01,491.96 L705.38,493.42 L705.72,494.88 L706.03,496.35 L706.32,497.82 L706.59,499.30 L706.84,500.78 L707.07,502.26 L707.29,503.75 L707.49,505.23 L707.67,506.72 L707.85,508.21 L708.01,509.71 L708.16,511.20 L708.30,512.69 L708.43,514.19 L708.56,515.68 L708.67,517.18 L708.78,518.68 L708.88,520.18 L708.97,521.67 L709.06,523.17 L709.14,524.67 L709.22,526.17 L709.29,527.67 L709.36,529.17 L709.42,530.67 L709.48,532.17 L709.54,533.67 L709.59,535.17 L709.64,536.67 L709.69,538.17 L709.73,539.67 L709.77,541.17 L709.81,542.67 L709.84,544.17 L709.88,545.67 L709.91,547.17 L709.94,548.67 L709.97,550.17 L709.99,551.67 L710.02,553.17 L710.04,554.67 L710.06,556.17 L710.08,557.67 L710.10,559.17 L710.12,560.67 L710.14,562.18 L710.15,563.68 L710.17,565.18 L710.18,566.68 L710.20,568.18 L710.21,569.68 L710.22,571.18 L710.23,572.68 L710.24,574.18 L710.25,575.68 L710.26,577.18 L710.27,578.68 L710.28,580.18 L710.29,581.69 L710.29,583.19 L710.30,584.69 L710.31,586.19 L710.31,587.69 L710.32,589.19 L710.32,590.69 L710.33,592.19 L710.33,593.69 L710.34,595.19 L710.34,596.69 L710.35,598.19 L710.35,599.70 L710.35,601.20 L710.36,602.70 L710.36,604.20 L710.36,605.70 L710.36,607.20 L710.37,608.70 L710.37,610.20 L710.37,611.70 L710.37,613.20 L710.38,614.70 L710.38,616.21 L710.38,617.71 L710.38,619.21 L710.38,620.71 L710.38,622.21 L710.39,623.71 L710.39,625.21 L710.39,626.71 L710.39,628.21 L710.39,629.71 L710.39,631.21 L710.39,632.71 L710.39,634.22 L710.39,635.72 L710.39,637.22 L710.39,638.72 L710.40,640.22 L710.40,641.72 L710.40,643.22 L710.40,644.72 L710.40,646.22 L710.40,647.72 L710.40,649.22 L710.40,650.72 L710.40,652.23 L710.40,653.73 L710.40,655.23 L710.40,656.73 L710.40,658.23 L710.40,659.73 L710.40,661.23 L710.40,662.73 L710.40,664.23 L710.40,665.73 L710.40,667.23 L710.40,668.73 L710.40,670.24 L710.40,671.74 L710.40,673.24 L710.40,674.74 L710.40,676.24 L710.40,677.74 L710.40,679.24 L710.40,680.74 L710.40,682.24 L710.40,683.74 L710.40,685.24 L710.40,686.74 L710.40,688.25 L710.40,689.75 L710.40,691.25 L710.40,692.75 L710.40,694.25 L710.40,695.75 L710.40,697.25 L710.40,698.75 L710.40,700.25 L710.40,701.75 L710.40,703.25 L710.40,704.75 L710.40,706.26 L710.40,707.76 L710.40,709.26 L710.40,710.76 L710.40,712.26 L710.40,713.76 L710.40,715.26 L710.40,716.76 L710.40,718.26 L710.40,719.76 L710.40,721.26 L710.40,722.76 L710.40,724.27 L710.40,725.77 L710.41,727.27 L710.41,728.77 L710.41,730.27 L710.41,731.77 L710.41,733.27 L710.41,734.77 L710.41,736.27 L710.41,737.77 L710.41,739.27 L710.41,740.77 L710.41,742.28 L710.41,743.78 L710.41,745.28 L710.41,746.78 L710.41,748.28 L710.41,749.78 L710.41,751.28 L710.41,752.78 L710.41,754.28 L710.41,755.78 L710.41,757.28 L710.41,758.78 L710.41,760.29 L710.41,761.79 L710.41,763.29 L710.41,764.79 L710.41,766.29 L710.41,767.79 L710.41,769.29" stroke="#0072bd"/>
<path d="M110.60,656.68 L111.93,655.98 L113.26,655.28 L114.59,654.59 L115.92,653.89 L117.25,653.19 L118.59,652.49 L119.92,651.79 L121.25,651.09 L122.58,650.40 L123.91,649.70 L125.24,649.00 L126.57,648.30 L127.90,647.60 L129.23,646.91 L130.56,646.21 L131.89,645.51 L133.23,644.81 L134.56,644.11 L135.89,643.41 L137.22,642.72 L138.55,642.02 L139.88,641.32 L141.21,640.62 L142.54,639.92 L143.87,639.22 L145.20,638.53 L146.53,637.83 L147.87,637.13 L149.20,636.43 L150.53,635.73 L151.86,635.04 L153.19,634.34 L154.52,633.64 L155.85,632.94 L157.18,632.24 L158.51,631.54 L159.84,630.85 L161.18,630.15 L162.51,629.45 L163.84,628.75 L165.17,628.05 L166.50,627.36 L167.83,626.66 L169.16,625.96 L170.49,625.26 L171.82,624.56 L173.15,623.86 L174.48,623.17 L175.82,622.47 L177.29,622.34 L178.79,622.34 L180.30,622.34 L181.80,622.34 L183.30,622.34 L184.80,622.34 L186.31,622.34 L187.81,622.34 L189.31,622.34 L190.82,622.34 L192.32,622.34 L193.82,622.34 L195.32,622.34 L196.83,622.34 L198.33,622.34 L199.83,622.34 L201.34,622.34 L202.84,622.34 L204.34,622.34 L205.85,622.34 L207.35,622.34 L208.85,622.34 L210.35,622.34 L211.86,622.34 L213.36,622.34 L214.86,622.34 L216.37,622.34 L217.87,622.34 L219.37,622.34 L220.87,622.34 L222.38,622.34 L223.88,622.34 L225.38,622.34 L226.89,622.34 L228.39,622.34 L229.89,622.34 L231.40,622.34 L232.90,622.34 L234.40,622.34 L235.90,622.34 L237.41,622.34 L238.91,622.34 L240.41,622.34 L241.92,622.34 L243.42,622.34 L244.92,622.34 L246.43,622.34 L247.93,622.34 L249.43,622.34 L250.93,622.34 L252.44,622.34 L253.94,622.34 L255.44,622.34 L256.95,622.34 L258.45,622.34 L259.95,622.34 L261.45,622.34 L262.96,622.34 L264.46,622.34 L265.96,622.34 L267.47,622.34 L268.97,622.34 L270.47,622.34 L271.98,622.34 L273.48,622.34 L274.98,622.34 L276.48,622.34 L277.99,622.34 L279.49,622.34 L280.99,622.34 L282.50,622.34 L284.00,622.34 L285.50,622.34 L287.00,622.34 L288.51,622.34 L290.01,622.34 L291.51,622.34 L293.02,622.34 L294.52,622.34 L296.02,622.34 L297.53,622.34 L299.03,622.34 L300.53,622.34 L302.03,622.34 L303.54,622.34 L305.04,622.34 L306.54,622.34 L308.05,622.34 L309.55,622.34 L311.05,622.34 L312.55,622.34 L314.06,622.34 L315.56,622.34 L317.06,622.34 L318.57,622.34 L320.07,622.34 L321.57,622.34 L323.08,622.34 L324.58,622.34 L326.08,622.34 L327.58,622.34 L329.09,622.34 L330.59,622.34 L332.09,622.34 L333.60,622.34 L335.10,622.34 L336.60,622.34 L338.11,622.34 L339.61,622.34 L341.11,622.34 L342.61,622.34 L344.12,622.34 L345.62,622.34 L347.12,622.34 L348.63,622.34 L350.13,622.34 L351.63,622.34 L353.13,622.34 L354.64,622.34 L356.14,622.34 L357.64,622.34 L359.15,622.34 L360.65,622.35 L362.15,622.35 L363.66,622.35 L365.16,622.35 L366.66,622.35 L368.16,622.35 L369.67,622.35 L371.17,622.35 L372.67,622.35 L374.18,622.35 L375.68,622.35 L377.18,622.36 L378.68,622.36 L380.19,622.36 L381.69,622.36 L383.19,622.36 L384.70,622.36 L386.20,622.36 L387.70,622.37 L389.21,622.37 L390.71,622.37 L392.21,622.37 L393.71,622.38 L395.22,622.38 L396.72,622.38 L398.22,622.38 L399.73,622.39 L401.23,622.39 L402.73,622.39 L404.24,622.40 L405.74,622.40 L407.24,622.41 L408.74,622.41 L410.25,622.42 L411.75,622.42 L413.25,622.43 L414.76,622.43 L416.26,622.44 L417.76,622.45 L419.26,622.45 L420.77,622.46 L422.27,622.47 L423.77,622.48 L425.28,622.49 L426.78,622.50 L428.28,622.51 L429.78,622.52 L431.29,622.53 L432.79,622.55 L434.29,622.56 L435.80,622.57 L437.30,622.59 L438.80,622.61 L440.31,622.62 L441.81,622.64 L443.31,622.66 L444.81,622.69 L446.32,622.71 L447.82,622.73 L449.32,622.76 L450.82,622.79 L452.33,622.82 L453.83,622.85 L455.33,622.88 L456.83,622.92 L458.34,622.96 L459.84,623.00 L461.34,623.05 L462.84,623.09 L464.35,623.14 L465.85,623.20 L467.35,623.26 L468.85,623.32 L470.35,623.38 L471.85,623.45 L473.36,623.53 L474.86,623.61 L476.36,623.69 L477.86,623.79 L479.36,623.88 L480.86,623.99 L482.35,624.10 L483.85,624.22 L485.35,624.35 L486.85,624.49 L488.34,624.64 L489.84,624.79 L491.33,624.96 L492.82,625.14 L494.31,625.34 L495.80,625.55 L497.29,625.77 L498.77,626.01 L500.25,626.27 L501.73,626.55 L503.20,626.84 L504.67,627.16 L506.13,627.51 L507.59,627.87 L509.04,628.27 L510.48,628.70 L511.91,629.15 L513.33,629.64 L514.74,630.17 L516.13,630.74 L517.51,631.35 L518.86,632.00 L520.20,632.69 L521.50,633.43 L522.78,634.22 L524.03,635.07 L525.24,635.96 L526.41,636.90 L527.54,637.89 L528.62,638.93 L529.66,640.01 L530.65,641.14 L531.59,642.32 L532.48,643.53 L533.32,644.77 L534.12,646.05 L534.86,647.36 L535.56,648.69 L536.21,650.04 L536.82,651.41 L537.39,652.80 L537.92,654.21 L538.42,655.63 L538.88,657.06 L539.31,658.50 L539.72,659.95 L540.09,661.40 L540.44,662.86 L540.77,664.33 L541.07,665.80 L541.35,667.28 L541.62,668.76 L541.87,670.24 L542.10,671.73 L542.31,673.21 L542.52,674.70 L542.70,676.19 L542.88,677.69 L543.05,679.18 L543.20,680.67 L543.35,682.17 L543.48,683.67 L543.61,685.16 L543.73,686.66 L543.84,688.16 L543.94,689.66 L544.04,691.16 L544.13,692.66 L544.22,694.16 L544.30,695.66 L544.37,697.16 L544.45,698.66 L544.51,700.17 L544.58,701.67 L544.63,703.17 L544.69,704.67 L544.74,706.17 L544.79,707.68 L544.84,709.18 L544.88,710.68 L544.92,712.18 L544.96,713.69 L544.99,715.19 L545.03,716.69 L545.06,718.19 L545.09,719.70 L545.11,721.20 L545.14,722.70 L545.17,724.20 L545.19,725.71 L545.21,727.21 L545.23,728.71 L545.25,730.21 L545.27,731.72 L545.29,733.22 L545.30,734.72 L545.32,736.23 L545.33,737.73 L545.34,739.23 L545.36,740.74 L545.37,742.24 L545.38,743.74 L545.39,745.24 L545.40,746.75 L545.41,748.25 L545.42,749.75 L545.42,751.26 L545.43,752.76 L545.44,754.26 L545.45,755.76 L545.45,757.27 L545.46,758.77 L545.47,760.27 L545.47,761.78 L545.48,763.28 L545.48,764.78 L545.49,766.28 L545.49,767.79 L545.50,769.29" stroke="#d95319" stroke-dasharray="15.0 15.0" stroke-dashoffset="27.5"/>
<path d="M110.60,656.68 L111.93,655.98 L113.26,655.29 L114.59,654.59 L115.92,653.89 L117.25,653.19 L118.58,652.50 L119.91,651.80 L121.24,651.10 L122.57,650.40 L123.90,649.71 L125.22,649.01 L126.55,648.31 L127.88,647.61 L129.21,646.92 L130.54,646.22 L131.87,645.52 L133.20,644.82 L134.53,644.13 L135.86,643.43 L137.19,642.73 L138.52,642.03 L139.85,641.34 L141.18,640.64 L142.51,639.94 L143.84,639.24 L145.17,638.55 L146.50,637.85 L147.83,637.15 L149.16,636.45 L150.49,635.76 L151.82,635.06 L153.14,634.36 L154.47,633.66 L155.80,632.97 L157.13,632.27 L158.46,631.57 L159.79,630.87 L161.12,630.18 L162.45,629.48 L163.78,628.78 L165.11,628.08 L166.44,627.39 L167.77,626.69 L169.10,625.99 L170.43,625.29 L171.76,624.60 L173.09,623.90 L174.42,623.20 L175.75,622.50 L177.08,621.81 L178.41,621.11 L179.74,620.41 L181.07,619.71 L182.39,619.02 L183.72,618.32 L185.05,617.62 L186.38,616.92 L187.71,616.23 L189.04,615.53 L190.37,614.83 L191.70,614.13 L193.03,613.44 L194.36,612.74 L195.69,612.04 L197.02,611.34 L198.35,610.65 L199.68,609.95 L201.01,609.25 L202.34,608.55 L203.67,607.86 L205.00,607.16 L206.33,606.46 L207.66,605.76 L208.99,605.07 L210.31,604.37 L211.64,603.67 L212.97,602.97 L214.30,602.28 L215.63,601.58 L216.96,600.88 L218.29,600.18 L219.62,599.49 L220.95,598.79 L222.28,598.09 L223.61,597.39 L224.94,596.70 L226.27,596.00 L227.60,595.30 L228.93,594.60 L230.26,593.91 L231.59,593.21 L232.92,592.51 L234.25,591.81 L235.58,591.12 L236.91,590.42 L238.23,589.72 L239.56,589.02 L240.89,588.33 L242.22,587.63 L243.55,586.93 L244.88,586.23 L246.21,585.54 L247.54,584.84 L248.87,584.14 L250.20,583.44 L251.53,582.75 L252.86,582.05 L254.19,581.35 L255.52,580.65 L256.85,579.96 L258.18,579.26 L259.51,578.56 L260.84,577.86 L262.17,577.17 L263.50,576.47 L264.83,575.77 L266.16,575.07 L267.48,574.38 L268.81,573.68 L270.14,572.98 L271.47,572.28 L272.80,571.59 L274.13,570.89 L275.46,570.19 L276.79,569.49 L278.12,568.80 L279.45,568.10 L280.78,567.40 L282.11,566.70 L283.44,566.01 L284.77,565.31 L286.10,564.61 L287.43,563.91 L288.76,563.22 L290.09,562.52 L291.42,561.82 L292.75,561.13 L294.08,560.43 L295.40,559.73 L296.73,559.03 L298.06,558.34 L299.39,557.64 L300.72,556.94 L302.05,556.24 L303.38,555.55 L304.71,554.85 L306.04,554.15 L307.37,553.45 L308.70,552.76 L310.03,552.06 L311.36,551.36 L312.69,550.66 L314.02,549.97 L315.35,549.27 L316.68,548.57 L318.01,547.87 L319.34,547.18 L320.67,546.48 L322.00,545.78 L323.32,545.08 L324.65,544.39 L325.98,543.69 L327.31,542.99 L328.64,542.29 L329.97,541.60 L331.30,540.90 L332.63,540.20 L333.96,539.50 L335.29,538.81 L336.62,538.11 L337.95,537.41 L339.28,536.71 L340.61,536.02 L341.94,535.32 L343.27,534.62 L344.60,533.92 L345.93,533.23 L347.26,532.53 L348.59,531.83 L349.92,531.13 L351.25,530.44 L352.57,529.74 L353.90,529.04 L355.23,528.34 L356.56,527.65 L357.89,526.95 L359.22,526.25 L360.55,525.55 L361.88,524.86 L363.21,524.16 L364.54,523.46 L365.87,522.76 L367.20,522.07 L368.53,521.37 L369.86,520.67 L371.19,519.97 L372.52,519.28 L373.85,518.58 L375.18,517.88 L376.51,517.18 L377.84,516.49 L379.17,515.79 L380.49,515.09 L381.82,514.39 L383.15,513.70 L384.48,513.00 L385.81,512.30 L387.14,511.60 L388.47,510.91 L389.80,510.21 L391.13,509.51 L392.46,508.81 L393.79,508.12 L395.12,507.42 L396.45,506.72 L397.78,506.02 L399.11,505.33 L400.44,504.63 L401.77,503.93 L403.10,503.23 L404.43,502.54 L405.76,501.84 L407.09,501.14 L408.41,500.44 L409.74,499.75 L411.07,499.05 L412.40,498.35 L413.73,497.65 L415.06,496.96 L416.39,496.26 L417.72,495.56 L419.05,494.86 L420.38,494.17 L421.71,493.47 L423.04,492.77 L424.37,492.07 L425.70,491.38 L427.03,490.68 L428.36,489.98 L429.69,489.28 L431.02,488.59 L432.35,487.89 L433.68,487.19 L435.01,486.49 L436.34,485.80 L437.66,485.10 L438.99,484.40 L440.32,483.70 L441.65,483.01 L442.98,482.31 L444.31,481.61 L445.64,480.91 L446.97,480.22 L448.30,479.52 L449.63,478.82 L450.96,478.12 L452.29,477.43 L453.62,476.73 L454.95,476.03 L456.28,475.33 L457.61,474.64 L458.94,473.94 L460.27,473.24 L461.60,472.54 L462.93,471.85 L464.26,471.15 L465.58,470.45 L466.91,469.75 L468.24,469.06 L469.57,468.36 L470.90,467.66 L472.23,466.96 L473.56,466.27 L474.89,465.57 L476.22,464.87 L477.55,464.17 L478.88,463.48 L480.21,462.78 L481.54,462.08 L482.87,461.38 L484.20,460.69 L485.53,459.99 L486.86,459.29 L488.19,458.59 L489.52,457.90 L490.85,457.20 L492.18,456.50 L493.50,455.81 L494.83,455.11 L496.16,454.41 L497.49,453.71 L498.82,453.02 L500.15,452.32 L501.48,451.62 L502.81,450.92 L504.14,450.23 L505.47,449.53 L506.80,448.83 L508.13,448.13 L509.46,447.44 L510.79,446.74 L512.12,446.04 L513.45,445.34 L514.78,444.65 L516.11,443.95 L517.44,443.25 L518.77,442.55 L520.10,441.86 L521.43,441.16 L522.75,440.46 L524.08,439.76 L525.41,439.07 L526.74,438.37 L528.07,437.67 L529.40,436.97 L530.73,436.28 L532.06,435.58 L533.39,434.88 L534.72,434.18 L536.05,433.49 L537.38,432.79 L538.71,432.09 L540.04,431.39 L541.37,430.70 L542.70,430.00 L544.03,429.30 L545.36,428.60 L546.69,427.91 L548.02,427.21 L549.35,426.51 L550.67,425.81 L552.00,425.12 L553.33,424.42 L554.66,423.72 L555.99,423.02 L557.32,422.33 L558.65,421.63 L559.98,420.93 L561.31,420.23 L562.64,419.54 L563.97,418.84 L565.30,418.14 L566.63,417.44 L567.96,416.75 L569.29,416.05 L570.62,415.35 L571.95,414.65 L573.28,413.96 L574.61,413.26 L575.94,412.56 L577.27,411.86 L578.59,411.17 L579.92,410.47 L581.25,409.77 L582.58,409.07 L583.91,408.38 L585.24,407.68 L586.57,406.98 L587.90,406.28 L589.23,405.59 L590.56,404.89 L591.89,404.19 L593.22,403.49 L594.55,402.80 L595.88,402.10 L597.21,401.40 L598.54,400.70 L599.87,400.01 L601.20,399.31 L602.53,398.61 L603.86,397.91 L605.19,397.22 L606.52,396.52 L607.84,395.82 L609.17,395.12 L610.50,394.43 L611.83,393.73 L613.16,393.03 L614.49,392.33 L615.82,391.64 L617.15,390.94 L618.48,390.24 L619.81,389.54 L621.14,388.85 L622.47,388.15 L623.80,387.45 L625.13,386.75 L626.46,386.06 L627.79,385.36 L629.12,384.66 L630.45,383.96 L631.78,383.27 L633.11,382.57 L634.44,381.87 L635.76,381.17 L637.09,380.48 L638.42,379.78 L639.75,379.08 L641.08,378.38 L642.41,377.69 L643.74,376.99 L645.07,376.29 L646.40,375.59 L647.73,374.90 L649.06,374.20 L650.39,373.50 L651.72,372.80 L653.05,372.11 L654.38,371.41 L655.71,370.71 L657.04,370.01 L658.37,369.32 L659.70,368.62 L661.03,367.92 L662.36,367.22 L663.68,366.53 L665.01,365.83 L666.34,365.13 L667.67,364.43 L669.00,363.74 L670.33,363.04 L671.66,362.34 L672.99,361.64 L674.32,360.95 L675.65,360.25 L676.98,359.55 L678.31,358.85 L679.64,358.16 L680.97,357.46 L682.30,356.76 L683.63,356.06 L684.96,355.37 L686.29,354.67 L687.62,353.97 L688.95,353.27 L690.28,352.58 L691.61,351.88 L692.93,351.18 L694.26,350.49 L695.59,349.79 L696.92,349.09 L698.25,348.39 L699.58,347.70 L700.91,347.00 L702.09,346.73 L702.69,348.11 L703.24,349.51 L703.74,350.92 L704.21,352.35 L704.64,353.79 L705.03,355.24 L705.40,356.69 L705.73,358.16 L706.05,359.63 L706.33,361.10 L706.60,362.58 L706.85,364.06 L707.08,365.54 L707.30,367.03 L707.50,368.51 L707.68,370.00 L707.86,371.49 L708.02,372.99 L708.17,374.48 L708.31,375.98 L708.44,377.47 L708.56,378.97 L708.68,380.47 L708.78,381.96 L708.88,383.46 L708.98,384.96 L709.07,386.46 L709.15,387.96 L709.22,389.46 L709.30,390.96 L709.36,392.46 L709.43,393.96 L709.49,395.46 L709.54,396.96 L709.59,398.46 L709.64,399.96 L709.69,401.46 L709.73,402.96 L709.77,404.46 L709.81,405.96 L709.85,407.46 L709.88,408.96 L709.91,410.46 L709.94,411.97 L709.97,413.47 L710.00,414.97 L710.02,416.47 L710.04,417.97 L710.06,419.47 L710.09,420.97 L710.10,422.47 L710.12,423.97 L710.14,425.48 L710.16,426.98 L710.17,428.48 L710.18,429.98 L710.20,431.48 L710.21,432.98 L710.22,434.48 L710.23,435.99 L710.24,437.49 L710.25,438.99 L710.26,440.49 L710.27,441.99 L710.28,443.49 L710.29,444.99 L710.29,446.49 L710.30,448.00 L710.31,449.50 L710.31,451.00 L710.32,452.50 L710.32,454.00 L710.33,455.50 L710.33,457.00 L710.34,458.51 L710.34,460.01 L710.35,461.51 L710.35,463.01 L710.35,464.51 L710.36,466.01 L710.36,467.51 L710.36,469.02 L710.36,470.52 L710.37,472.02 L710.37,473.52 L710.37,475.02 L710.37,476.52 L710.38,478.02 L710.38,479.52 L710.38,481.03 L710.38,482.53 L710.38,484.03 L710.38,485.53 L710.39,487.03 L710.39,488.53 L710.39,490.03 L710.39,491.54 L710.39,493.04 L710.39,494.54 L710.39,496.04 L710.39,497.54 L710.39,499.04 L710.39,500.54 L710.40,502.05 L710.40,503.55 L710.40,505.05 L710.40,506.55 L710.40,508.05 L710.40,509.55 L710.40,511.05 L710.40,512.56 L710.40,514.06 L710.40,515.56 L710.40,517.06 L710.40,518.56 L710.40,520.06 L710.40,521.56 L710.40,523.06 L710.40,524.57 L710.40,526.07 L710.40,527.57 L710.40,529.07 L710.40,530.57 L710.40,532.07 L710.40,533.57 L710.40,535.08 L710.40,536.58 L710.40,538.08 L710.40,539.58 L710.40,541.08 L710.40,542.58 L710.40,544.08 L710.40,545.59 L710.40,547.09 L710.40,548.59 L710.40,550.09 L710.40,551.59 L710.40,553.09 L710.40,554.59 L710.40,556.10 L710.40,557.60 L710.40,559.10 L710.40,560.60 L710.40,562.10 L710.40,563.60 L710.40,565.10 L710.40,566.60 L710.40,568.11 L710.40,569.61 L710.40,571.11 L710.40,572.61 L710.40,574.11 L710.40,575.61 L710.40,577.11 L710.40,578.62 L710.40,580.12 L710.40,581.62 L710.40,583.12 L710.40,584.62 L710.40,586.12 L710.40,587.62 L710.40,589.13 L710.40,590.63 L710.40,592.13 L710.40,593.63 L710.40,595.13 L710.40,596.63 L710.40,598.13 L710.40,599.64 L710.40,601.14 L710.40,602.64 L710.40,604.14 L710.40,605.64 L710.40,607.14 L710.40,608.64 L710.40,610.14 L710.40,611.65 L710.40,613.15 L710.40,614.65 L710.40,616.15 L710.40,617.65 L710.40,619.15 L710.40,620.65 L710.40,622.16 L710.40,623.66 L710.40,625.16 L710.40,626.66 L710.40,628.16 L710.40,629.66 L710.40,631.16 L710.40,632.67 L710.40,634.17 L710.40,635.67 L710.40,637.17 L710.40,638.67 L710.40,640.17 L710.40,641.67 L710.40,643.18 L710.40,644.68 L710.40,646.18 L710.40,647.68 L710.40,649.18 L710.40,650.68 L710.40,652.18 L710.40,653.68 L710.40,655.19 L710.40,656.69 L710.40,658.19 L710.40,659.69 L710.40,661.19 L710.40,662.69 L710.40,664.19 L710.40,665.70 L710.40,667.20 L710.40,668.70 L710.40,670.20 L710.40,671.70 L710.40,673.20 L710.40,674.70 L710.40,676.21 L710.41,677.71 L710.41,679.21 L710.41,680.71 L710.41,682.21 L710.41,683.71 L710.41,685.21 L710.41,686.72 L710.41,688.22 L710.41,689.72 L710.41,691.22 L710.41,692.72 L710.41,694.22 L710.41,695.72 L710.41,697.22 L710.41,698.73 L710.41,700.23 L710.41,701.73 L710.41,703.23 L710.41,704.73 L710.41,706.23 L710.41,707.73 L710.41,709.24 L710.41,710.74 L710.41,712.24 L710.41,713.74 L710.41,715.24 L710.41,716.74 L710.41,718.24 L710.41,719.75 L710.41,721.25 L710.41,722.75 L710.41,724.25 L710.41,725.75 L710.41,727.25 L710.41,728.75 L710.41,730.25 L710.41,731.76 L710.41,733.26 L710.41,734.76 L710.41,736.26 L710.41,737.76 L710.41,739.26 L710.41,740.76 L710.41,742.27 L710.41,743.77 L710.41,745.27 L710.41,746.77 L710.41,748.27 L710.41,749.77 L710.41,751.27 L710.41,752.78 L710.41,754.28 L710.41,755.78 L710.41,757.28 L710.41,758.78 L710.41,760.28 L710.41,761.78 L710.41,763.29 L710.41,764.79 L710.41,766.29 L710.41,767.79 L710.41,769.29" stroke="#edb120" stroke-dasharray="3.5 4.02" stroke-dashoffset="5.02"/>
</g>
<g id="labels">
<text x="61.00" y="66.20" font-size="28.5">10</text>
<text x="89.30" y="55.70" font-size="18">4</text>
<text x="61.00" y="174.60" font-size="28.5">10</text>
<text x="89.30" y="164.10" font-size="18">2</text>
<text x="61.00" y="283.00" font-size="28.5">10</text>
<text x="89.30" y="272.50" font-size="18">0</text>
<text x="61.00" y="377.27" font-size="28.5">10</text>
<text x="89.30" y="366.77" font-size="18">2</text>
<text x="61.00" y="491.36" font-size="28.5">10</text>
<text x="89.30" y="480.86" font-size="18">0</text>
<text x="46.00" y="605.45" font-size="28.5">10</text>
<path d="M75.70 590.05H88.00" stroke="#000" stroke-width="1.25" fill="none"/>
<text x="89.30" y="594.95" font-size="18">2</text>
<text x="82.90" y="689.10" font-size="28.5">10</text>
<path d="M112.60 673.70H124.90" stroke="#000" stroke-width="1.25" fill="none"/>
<text x="126.20" y="678.60" font-size="18">4</text>
<text x="191.64" y="689.10" font-size="28.5">10</text>
<path d="M221.34 673.70H233.64" stroke="#000" stroke-width="1.25" fill="none"/>
<text x="234.94" y="678.60" font-size="18">3</text>
<text x="300.38" y="689.10" font-size="28.5">10</text>
<path d="M330.08 673.70H342.38" stroke="#000" stroke-width="1.25" fill="none"/>
<text x="343.68" y="678.60" font-size="18">2</text>
<text x="409.12" y="689.10" font-size="28.5">10</text>
<path d="M438.82 673.70H451.12" stroke="#000" stroke-width="1.25" fill="none"/>
<text x="452.42" y="678.60" font-size="18">1</text>
<text x="525.26" y="689.10" font-size="28.5">10</text>
<text x="553.56" y="678.60" font-size="18">0</text>
<text x="633.99" y="689.10" font-size="28.5">10</text>
<text x="662.29" y="678.60" font-size="18">1</text>
</g>
<g id="ann">
<path fill-rule="evenodd" fill="#000" d="M267.00 64.00L277.15 43.80L287.30 64.00Z M269.24 62.10L276.11 48.42L282.99 62.10Z"/>
<path d="M290.80 43.70 L293.00 44.50 L289.50 53.10 L288.50 52.70 Z" fill="#000"/>
<text x="288.60" y="69.70" font-size="18.5" textLength="23.6" lengthAdjust="spacingAndGlyphs">sat</text>
<text x="315.30" y="64.00" font-size="28.5" font-style="italic" textLength="15.4" lengthAdjust="spacingAndGlyphs">d</text>
<text x="330.00" y="67.80" font-size="17.5" font-style="italic">e</text>
<path d="M365.85 46.90 L348.70 56.20 L365.85 65.50 M374.30 46.90 L357.15 56.20 L374.30 65.50" fill="none" stroke="#000" stroke-width="1.35" stroke-linejoin="miter"/>
<text x="381.60" y="64.00" font-size="28.5">1</text>
<path fill-rule="evenodd" fill="#000" d="M267.70 229.60L277.85 209.40L288.00 229.60Z M269.94 227.70L276.81 214.02L283.69 227.70Z"/>
<path d="M291.50 209.30 L293.70 210.10 L290.20 218.70 L289.20 218.30 Z" fill="#000"/>
<text x="289.30" y="235.30" font-size="18.5" textLength="23.6" lengthAdjust="spacingAndGlyphs">sat</text>
<text x="316.00" y="229.60" font-size="28.5" font-style="italic" textLength="15.4" lengthAdjust="spacingAndGlyphs">d</text>
<text x="330.70" y="233.40" font-size="17.5" font-style="italic">e</text>
<path d="M349.20 214.20 L366.70 222.20 L349.20 230.20" fill="none" stroke="#000" stroke-width="1.35" stroke-linejoin="miter"/>
<text x="375.70" y="229.60" font-size="28.5">1</text>
<path fill-rule="evenodd" fill="#000" d="M236.40 164.40L246.55 144.20L256.70 164.40Z M238.64 162.50L245.51 148.82L252.39 162.50Z"/>
<path d="M260.20 144.10 L262.40 144.90 L258.90 153.50 L257.90 153.10 Z" fill="#000"/>
<text x="258.00" y="170.10" font-size="18.5" textLength="23.6" lengthAdjust="spacingAndGlyphs">sat</text>
<path d="M285.80 157.40 H313.60 M306.00 150.40 Q309.42 155.90 313.60 157.40 Q309.42 158.90 306.00 164.40" fill="none" stroke="#000" stroke-width="1.35"/>
<text x="657.50" y="116.30" font-size="26.5" font-style="italic" textLength="13.0" lengthAdjust="spacingAndGlyphs">k</text>
<text x="670.60" y="120.50" font-size="18.5" textLength="23.6" lengthAdjust="spacingAndGlyphs">sat</text>
<path d="M673.10 130.90 V154.50 M665.40 146.90 Q671.60 150.32 673.10 154.50 Q674.60 150.32 680.80 146.90" fill="none" stroke="#000" stroke-width="1.35"/>
<text x="679.80" y="140.80" font-size="27" font-style="italic" textLength="15.5" lengthAdjust="spacingAndGlyphs">x</text>
<text x="695.00" y="146.90" font-size="19.5">m</text>
<path d="M696.9 126.8H709.5" stroke="#000" stroke-width="1.2" fill="none"/>
<text x="709.70" y="130.90" font-size="17">1</text>
<path d="M698.80 155.20 V178.90 M691.10 171.30 Q697.30 174.72 698.80 178.90 Q700.30 174.72 706.50 171.30" fill="none" stroke="#000" stroke-width="1.35"/>
<g transform="translate(362.1,503.6) rotate(-24.6)"><path fill-rule="evenodd" fill="#000" d="M0.00 0.00L10.15 -20.20L20.30 0.00Z M2.24 -1.90L9.11 -15.58L15.99 -1.90Z"/><path d="M23.80 -20.30 L26.00 -19.50 L22.50 -10.90 L21.50 -11.30 Z" fill="#000"/><text x="21.60" y="5.70" font-size="18.5" textLength="23.6" lengthAdjust="spacingAndGlyphs">sat</text><text x="48.30" y="0.00" font-size="28.5" font-style="italic" textLength="15.4" lengthAdjust="spacingAndGlyphs">d</text><text x="63.00" y="3.80" font-size="17.5" font-style="italic">e</text><path d="M81.50 -15.40 L99.00 -7.40 L81.50 0.60" fill="none" stroke="#000" stroke-width="1.35" stroke-linejoin="miter"/><text x="108.00" y="0.00" font-size="28.5">1</text></g>
<g transform="translate(486.1,529.5) rotate(-24.6)"><path fill-rule="evenodd" fill="#000" d="M0.00 0.00L10.15 -20.20L20.30 0.00Z M2.24 -1.90L9.11 -15.58L15.99 -1.90Z"/><path d="M23.80 -20.30 L26.00 -19.50 L22.50 -10.90 L21.50 -11.30 Z" fill="#000"/><text x="21.60" y="5.70" font-size="18.5" textLength="23.6" lengthAdjust="spacingAndGlyphs">sat</text><text x="48.30" y="0.00" font-size="28.5" font-style="italic" textLength="15.4" lengthAdjust="spacingAndGlyphs">d</text><text x="63.00" y="3.80" font-size="17.5" font-style="italic">e</text><path d="M98.85 -17.10 L81.70 -7.80 L98.85 1.50 M107.30 -17.10 L90.15 -7.80 L107.30 1.50" fill="none" stroke="#000" stroke-width="1.35" stroke-linejoin="miter"/><text x="114.60" y="0.00" font-size="28.5">1</text></g>
<path d="M514.00 613.00 C515.00 609.40 516.80 608.40 518.80 608.40 C521.60 608.40 523.00 613.00 524.00 617.40" fill="none" stroke="#000" stroke-width="2.10" stroke-linecap="round"/><path d="M528.70 607.70 L524.00 617.40 L522.20 625.20" fill="none" stroke="#000" stroke-width="1.30" stroke-linecap="round" stroke-linejoin="round"/>
<text x="527.80" y="626.00" font-size="20" textLength="6.6" lengthAdjust="spacingAndGlyphs">t</text>
<text x="529.60" y="609.90" font-size="19" textLength="51.4" lengthAdjust="spacingAndGlyphs">Harris</text>
<text x="1.60" y="24.90" font-size="30.5">(</text>
<text x="11.60" y="24.90" font-size="30.5" font-style="italic">a</text>
<text x="27.20" y="24.90" font-size="30.5">)</text>
<text x="1.60" y="349.40" font-size="30.5">(</text>
<text x="11.60" y="349.40" font-size="30.5" font-style="italic">b</text>
<text x="27.20" y="349.40" font-size="30.5">)</text>
<text x="402.80" y="724.00" font-size="26.5" font-style="italic" textLength="13.4" lengthAdjust="spacingAndGlyphs">k</text>
<text x="416.30" y="728.10" font-size="20" textLength="6.6" lengthAdjust="spacingAndGlyphs">t</text>
<text x="425.30" y="724.00" font-size="26.5" font-style="italic" textLength="14.6" lengthAdjust="spacingAndGlyphs">a</text>
<g transform="translate(29.3,188.1) rotate(-90)"><path fill-rule="evenodd" fill="#000" d="M0.00 0.00L10.10 -20.20L20.20 0.00Z M2.24 -1.90L9.07 -15.56L15.90 -1.90Z"/><g transform="translate(0,0)"><path d="M23.80 -20.90 L26.00 -20.10 L22.50 -11.30 L21.50 -11.70 Z" fill="#000"/></g><text x="28.40" y="0.00" font-size="30" font-style="italic">a</text></g>
<g transform="translate(30,570.1) rotate(-90)"><path d="M0.62 -7.68 C1.65 -11.39 3.50 -12.42 5.56 -12.42 C8.45 -12.42 9.89 -7.68 10.92 -3.15" fill="none" stroke="#000" stroke-width="2.16" stroke-linecap="round"/><path d="M15.76 -13.14 L10.92 -3.15 L9.06 4.89" fill="none" stroke="#000" stroke-width="1.34" stroke-linecap="round" stroke-linejoin="round"/><text x="14.80" y="4.10" font-size="18.5">t</text><text x="27.00" y="0.00" font-size="30" font-style="italic">τ</text><text x="39.30" y="4.10" font-size="20">A</text><text x="54.30" y="4.10" font-size="20">,</text><text x="58.00" y="4.10" font-size="18.5">r</text><path d="M79.2 -14.4L92.1 -1.5M79.2 -1.5L92.1 -14.4" stroke="#000" stroke-width="1.4" fill="none"/><text x="102.20" y="0.00" font-size="30" font-style="italic">a</text><path d="M118.8 6.0L128.2 -21.5" stroke="#000" stroke-width="1.4" fill="none"/><text x="130.20" y="0.00" font-size="30" font-style="italic">d</text><text x="144.50" y="4.40" font-size="20" font-style="italic">e</text></g>
</g>
</svg>
</body></html>
